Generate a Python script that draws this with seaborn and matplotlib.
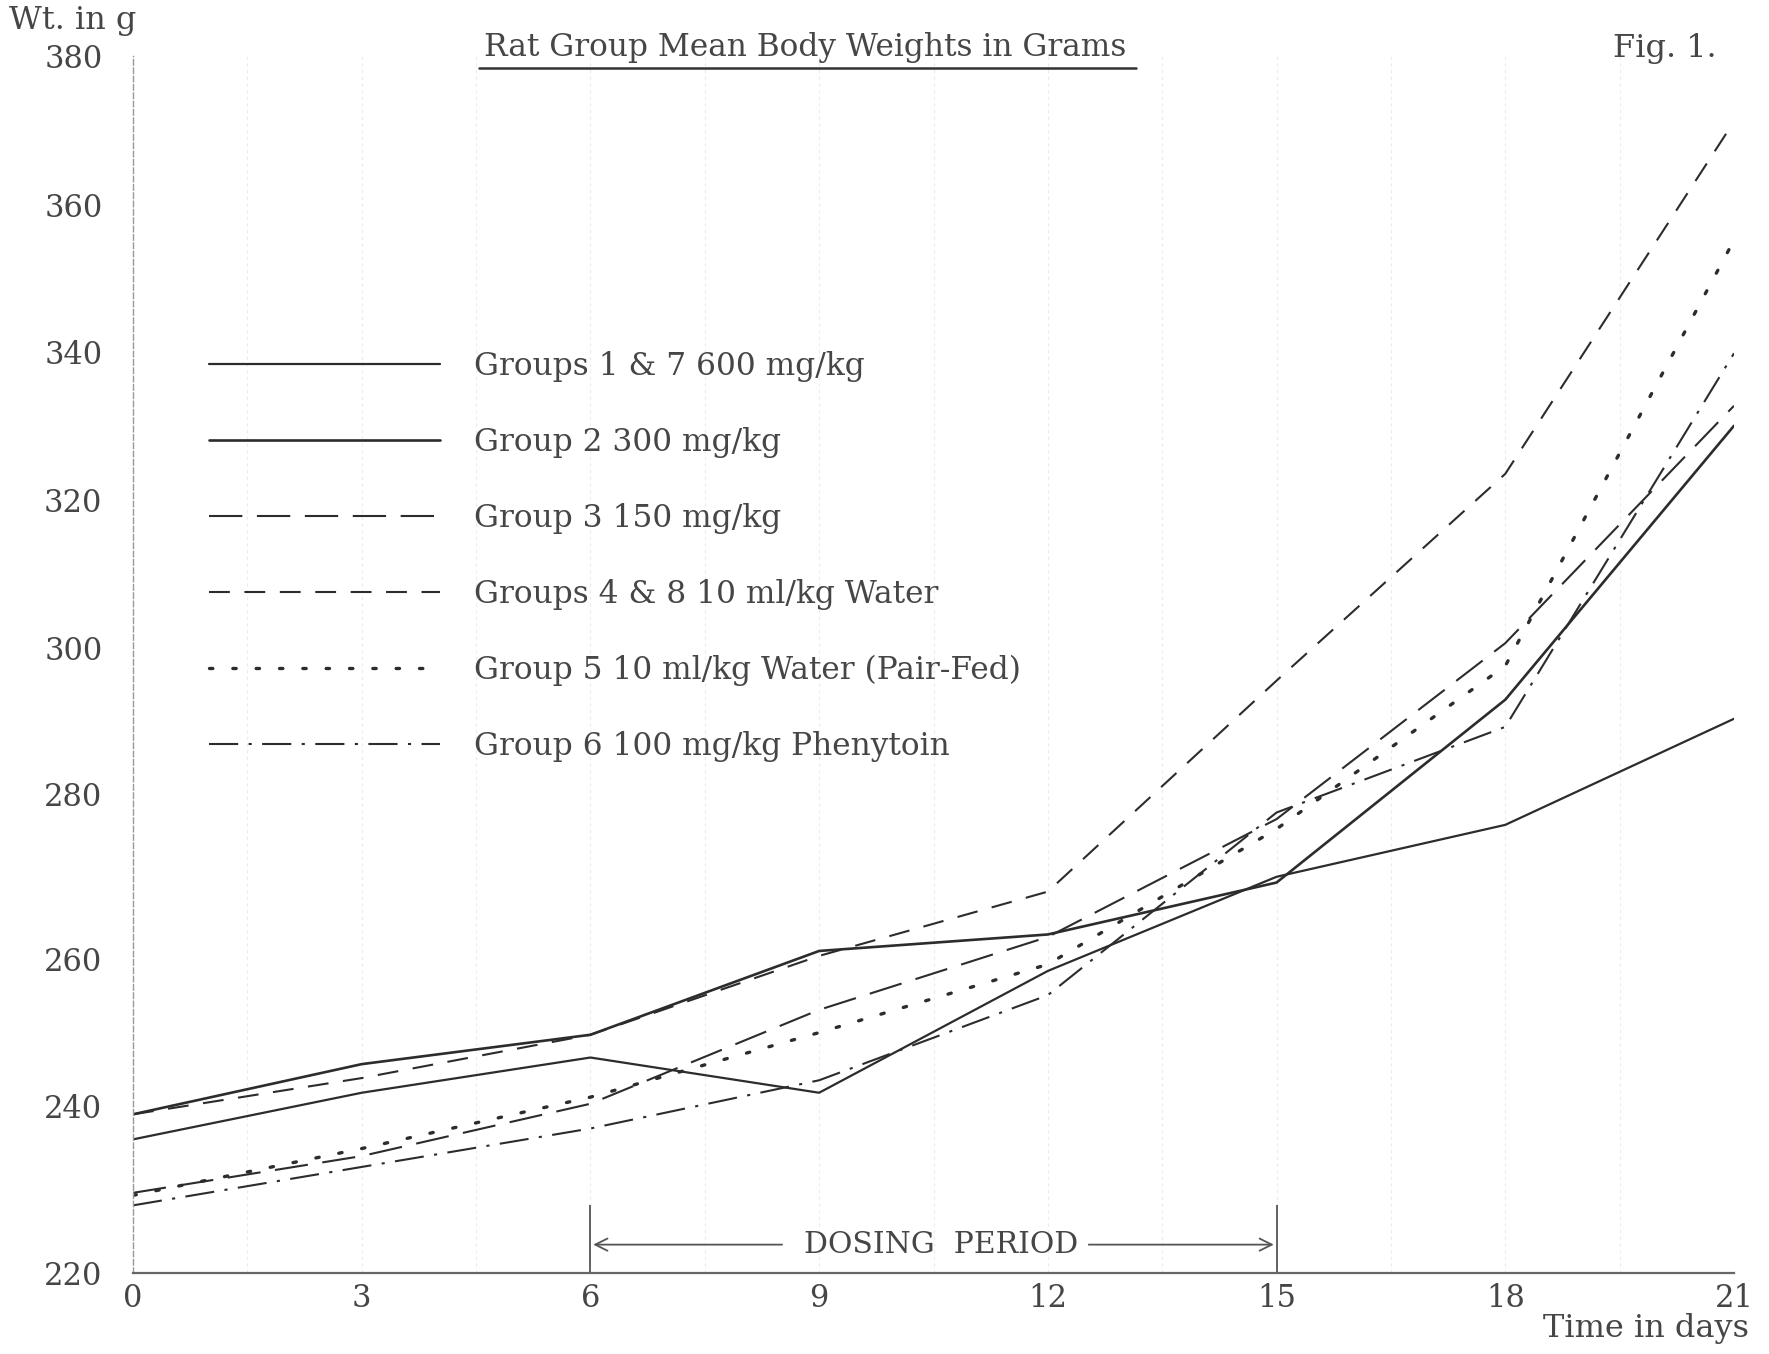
import numpy as np
import pandas as pd
import matplotlib
matplotlib.use("Agg")
import matplotlib.pyplot as plt
from matplotlib.lines import Line2D
import seaborn as sns

# ---------------- data ----------------
days = [0, 3, 6, 9, 12, 15, 18, 21]
groups = ["Groups 1 & 7 600 mg/kg",
          "Group 2 300 mg/kg",
          "Group 3 150 mg/kg",
          "Groups 4 & 8 10 ml/kg Water",
          "Group 5 10 ml/kg Water (Pair-Fed)",
          "Group 6 100 mg/kg Phenytoin"]
g1_7 = [236.0, 241.8, 246.6, 241.8, 258.4, 270.0, 276.3, 290.3]
g2 = [239.0, 245.7, 249.7, 261.0, 263.0, 269.3, 292.9, 330.0]
g3 = [229.6, 234.0, 240.3, 253.1, 262.7, 277.0, 300.6, 332.7]
g4_8 = [239.0, 243.8, 249.7, 260.4, 268.2, 295.5, 323.5, 371.2]
g5 = [229.3, 234.9, 241.2, 250.0, 259.3, 275.8, 297.5, 355.2]
g6 = [228.1, 232.7, 237.3, 243.5, 255.1, 277.8, 289.2, 339.8]
series = [g1_7, g2, g3, g4_8, g5, g6]

y_ticks = [220, 240, 260, 280, 300, 320, 340, 360, 380]
x_ticks = [0, 3, 6, 9, 12, 15, 18, 21]
dosing_start, dosing_end = 6, 15

# hand-drawn (non-uniform) vertical axis: relative positions of the tick labels
tick_pos = [0, 148, 278, 424, 554, 685, 816, 946, 1078]

df = pd.DataFrame({
    "day": np.tile(days, len(groups)),
    "weight": np.concatenate(series),
    "group": np.repeat(groups, len(days)),
})

# ---------------- style ----------------
sns.set_theme(style="white")
plt.rcParams["font.family"] = ["DejaVu Serif", "DejaVu Sans"]
ink = "#2c2c2c"
txt = "#464646"

fig = plt.figure(figsize=(17.69, 13.54), dpi=100)
ax = fig.add_axes([0.0752, 0.0598, 0.905, 0.8988])


def fwd(v):
    return np.interp(v, y_ticks, tick_pos)


def inv(p):
    return np.interp(p, tick_pos, y_ticks)


ax.set_yscale("function", functions=(fwd, inv))

styles = {
    groups[0]: dict(linestyle="-", linewidth=1.6),
    groups[1]: dict(linestyle="-", linewidth=1.9),
    groups[2]: dict(linestyle=(0, (16, 7)), linewidth=1.5),
    groups[3]: dict(linestyle=(0, (10, 7)), linewidth=1.5),
    groups[4]: dict(linestyle=(0, (1, 6)), linewidth=2.4, dash_capstyle="round"),
    groups[5]: dict(linestyle=(0, (14, 5, 1.5, 5)), linewidth=1.5),
}

for g in groups:
    sub = df[df["group"] == g]
    sns.lineplot(data=sub, x="day", y="weight", ax=ax, color=ink,
                 label=g, legend=False, **styles[g])

handles = [Line2D([], [], color=ink, **styles[g]) for g in groups]

ax.set_xlim(0, 21)
ax.set_ylim(220, 380)
ax.set_xticks(x_ticks)
ax.set_yticks(y_ticks)
ax.set_xticklabels([str(t) for t in x_ticks])
ax.set_yticklabels([str(t) for t in y_ticks])
ax.set_xlabel("")
ax.set_ylabel("")
ax.tick_params(axis="y", length=4, width=0.8, color="#999999", pad=18,
               labelsize=22, labelcolor=txt, direction="out")
ax.tick_params(axis="x", length=5, width=0.8, color="#888888", pad=7,
               labelsize=22, labelcolor=txt, direction="in")

for s in ["top", "right"]:
    ax.spines[s].set_visible(False)
ax.spines["left"].set_color("#9a9a9a")
ax.spines["left"].set_linewidth(1.0)
ax.spines["left"].set_linestyle((0, (4, 2)))
ax.spines["bottom"].set_color("#666666")
ax.spines["bottom"].set_linewidth(1.6)

# faint paper grid
for xv in np.arange(1.5, 21, 1.5):
    ax.axvline(xv, color="#ececec", lw=0.8, ls=(0, (3, 3)), zorder=0)

# legend
leg = ax.legend(handles, groups, loc="upper left",
                bbox_to_anchor=(0.118, 0.741), bbox_transform=fig.transFigure,
                frameon=False, fontsize=22.5, handlelength=7.4,
                handletextpad=1.1, labelspacing=1.44, borderpad=0,
                borderaxespad=0)
for t in leg.get_texts():
    t.set_color(txt)

# dosing period annotation
bar_top = 228.1
arrow_y = 223.4
ax.vlines([dosing_start, dosing_end], 220, bar_top, color="#555555", lw=1.3)
ax.annotate("", xy=(dosing_start, arrow_y), xytext=(8.55, arrow_y),
            arrowprops=dict(arrowstyle="->", color="#555555", lw=1.3,
                            mutation_scale=22))
ax.annotate("", xy=(dosing_end, arrow_y), xytext=(12.5, arrow_y),
            arrowprops=dict(arrowstyle="->", color="#555555", lw=1.3,
                            mutation_scale=22))
ax.text(10.6, arrow_y, "DOSING  PERIOD", ha="center", va="center",
        fontsize=21.5, color=txt)

# titles and labels
fig.text(0.005, 0.985, "Wt. in g", ha="left", va="center", fontsize=23,
         color=txt)
fig.text(0.455, 0.965, "Rat Group Mean Body Weights in Grams", ha="center",
         va="center", fontsize=22.5, color=txt)
fig.add_artist(Line2D([0.271, 0.642], [0.9495, 0.9495],
                      transform=fig.transFigure, color="#333333", lw=1.8))
fig.text(0.912, 0.964, "Fig. 1.", ha="left", va="center", fontsize=23,
         color=txt)
fig.text(0.9885, 0.019, "Time in days", ha="right", va="center",
         fontsize=23, color=txt)

fig.savefig("out.png", dpi=100, facecolor="white")
